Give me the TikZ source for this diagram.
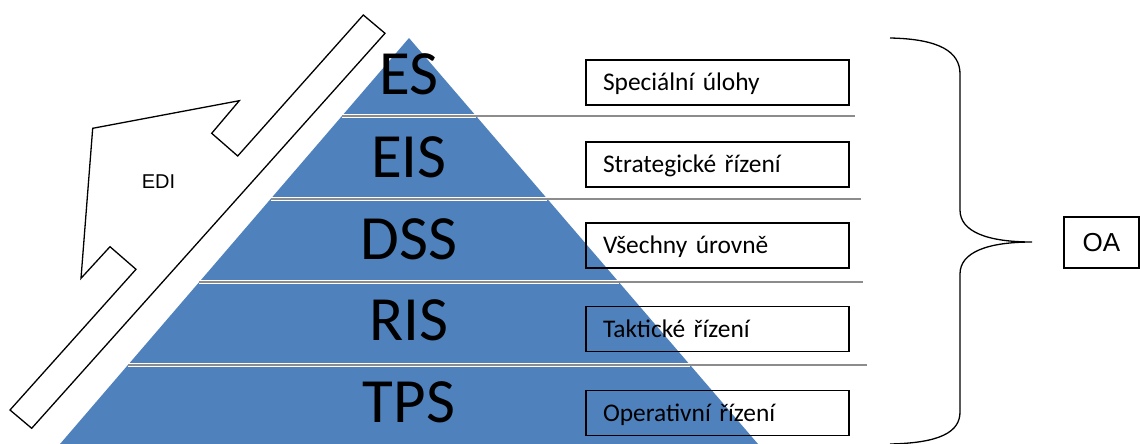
\documentclass[tikz,border=0pt]{standalone}
\usepackage{fontspec}
\setmainfont{Carlito}
\newfontfamily\boxfont{Carlito}[WordSpace = 0.75]
\newfontfamily\arialfont{Liberation Sans}
\definecolor{pyrblue}{RGB}{79,129,189}

\begin{document}
\begin{tikzpicture}[x = 0.5pt, y = -0.5pt,
        level/.style = {anchor = base, font = \fontsize{31.5}{32}\selectfont},
        tagbox/.style = {draw, line width = 0.8pt, text width = 114.5pt, inner xsep = 8.5pt, inner ysep = 0pt,
            minimum height = 22.5pt, align = left, text height = 10pt, text depth = 2pt,
            font = \boxfont\fontsize{12.7}{14}\selectfont},
        divider/.style = {black!45, line width = 0.6pt},
        outline/.style = {line width = 0.65pt}] % IS pyramid
        \useasboundingbox (0, 0) rectangle (1140, 444);
        \coordinate (apex) at (409, 38);
        \coordinate (bl) at (60, 444);
        \coordinate (br) at (758, 444);
        \fill[pyrblue] (apex) -- (br) -- (bl) -- cycle;

        % Layer borders
        \foreach \y/\e in {116/855, 199/861, 282/863, 365/867} {
            \pgfmathsetmacro{\w}{0.8596*(\y - 38)}
            \draw[white, line width = 1.75pt] (409 - \w, \y) -- (409 + \w, \y);
            \draw[divider] (409 - \w, \y) -- (\e, \y);
        }

        % Levels
        \node[level] (es) at (409, 95) {ES};
        \node[level] (eis) at (409, 177) {EIS};
        \node[level] (dss) at (409, 259) {DSS};
        \node[level] (ris) at (409, 340) {RIS};
        \node[level] (tps) at (409, 422) {TPS};

        % Management
        \node[tagbox] (special) at (717.5, 82.5) {Speciální úlohy};
        \node[tagbox] (strategic) at (717.5, 164.5) {Strategické řízení};
        \node[tagbox] (all) at (717.5, 245.5) {Všechny úrovně};
        \node[tagbox] (tactical) at (717.5, 329) {Taktické řízení};
        \node[tagbox] (operative) at (717.5, 413) {Operativní řízení};

        % Brace and OA
        \coordinate (tip) at (1032, 242);
        \draw[outline] (890, 38) .. controls (940, 39) and (960, 52) .. (960, 74) -- (960, 210)
            .. controls (960, 232) and (988, 242) .. (tip)
            .. controls (988, 242) and (960, 252) .. (960, 274) -- (960, 412)
            .. controls (960, 432) and (940, 443) .. (890, 444);
        \node[draw, line width = 0.6pt, minimum width = 37.5pt, minimum height = 25.5pt,
            font = \arialfont\fontsize{13}{14}\selectfont] (oa) at (1101.5, 242.5) {OA};

        % EDI arrow
        \draw[outline, fill = white] (363.3, 15) -- (385, 33.3) -- (31.7, 428.3) -- (10, 410)
            -- (136, 269.3) -- (110, 246.7) -- (81, 278.3) -- (92.7, 128.3)
            -- (239.3, 100.7) -- (211.7, 133.3) -- (237.7, 156) -- cycle;
        \node[font = \arialfont\fontsize{10}{12}\selectfont] (edi) at (158.5, 182) {EDI};
    \end{tikzpicture}
\end{document}
